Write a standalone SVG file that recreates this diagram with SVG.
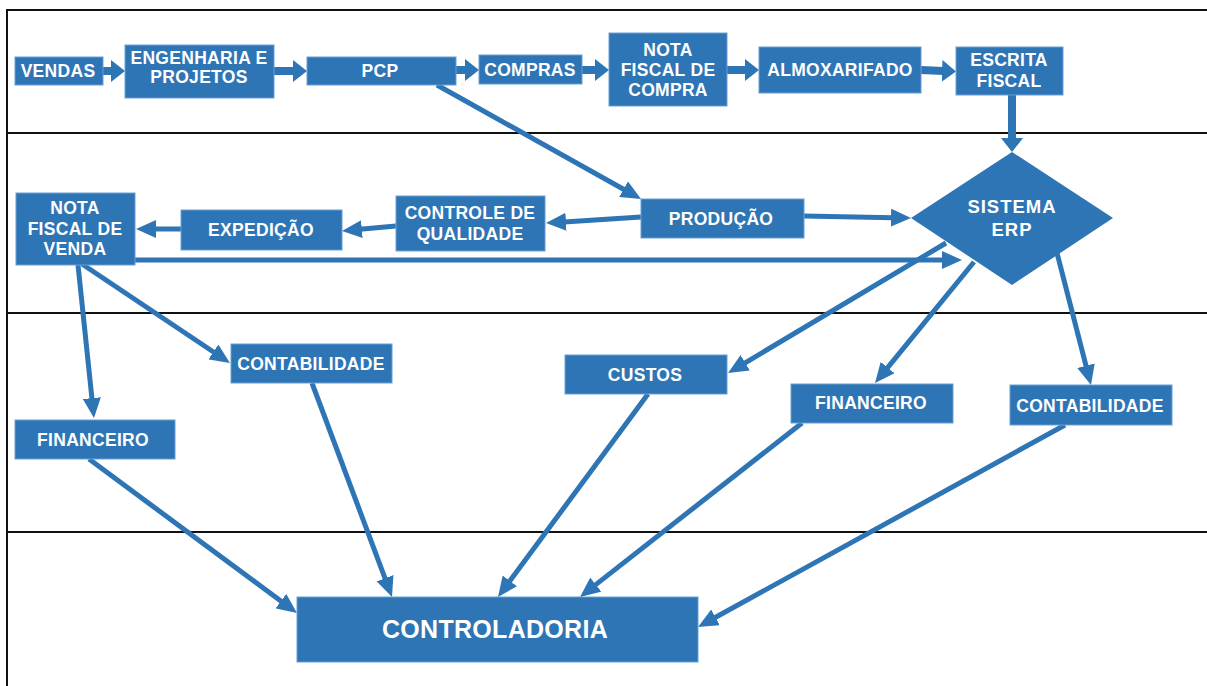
<svg xmlns="http://www.w3.org/2000/svg" width="1207" height="686" viewBox="0 0 1207 686">
<style>
.box{fill:#2E75B6;stroke:#6A9FD2;stroke-width:1}
.t{font-family:"Liberation Sans",Arial,sans-serif;font-weight:bold;font-size:17.5px;letter-spacing:0.3px;fill:#fff;text-anchor:middle}
.big{font-size:25px}
.erp{font-size:18.5px;letter-spacing:1px}
.c{stroke:#2E75B6;stroke-width:5;fill:none;marker-end:url(#a)}
.cb{stroke:#2E75B6;stroke-width:8;fill:none;marker-end:url(#b)}
.fr{stroke:#111;stroke-width:2;fill:none}
</style>
<defs>
<marker id="a" viewBox="0 0 20 18" markerWidth="20" markerHeight="18" markerUnits="userSpaceOnUse" refX="2" refY="9" orient="auto"><path d="M0,0 L20,9 L0,18 z" fill="#2E75B6"/></marker>
<marker id="b" viewBox="0 0 14 22" markerWidth="14" markerHeight="22" markerUnits="userSpaceOnUse" refX="1" refY="11" orient="auto"><path d="M0,0 L14,11 L0,22 z" fill="#2E75B6"/></marker>
</defs>
<rect width="1207" height="686" fill="#fff"/>
<g id="frame">
<path class="fr" d="M7,686 V10 H1207 M7,133 H1207 M7,313 H1207 M7,532 H1207"/>
</g>
<g id="connectors">
<line class="cb" x1="103" y1="71" x2="112" y2="71"/>
<line class="cb" x1="274" y1="71" x2="294" y2="71"/>
<line class="cb" x1="456" y1="70" x2="466" y2="70"/>
<line class="cb" x1="582" y1="70" x2="596" y2="70"/>
<line class="cb" x1="727" y1="70" x2="746" y2="70"/>
<line class="cb" x1="921" y1="70" x2="943" y2="71"/>
<line class="cb" x1="1012" y1="95" x2="1012" y2="139"/>
<line class="c" x1="437" y1="85" x2="625.3" y2="190.2"/>
<line class="c" x1="804" y1="216" x2="893" y2="217.7"/>
<line class="c" x1="641" y1="217" x2="564" y2="221.9"/>
<line class="c" x1="396" y1="226" x2="359.9" y2="229.3"/>
<line class="c" x1="181" y1="229" x2="154" y2="229"/>
<line class="c" x1="135" y1="260" x2="944" y2="260"/>
<line class="c" x1="946" y1="243" x2="743.5" y2="363.8"/>
<line class="c" x1="974" y1="262" x2="886.4" y2="369.1"/>
<line class="c" x1="1057" y1="253" x2="1086.5" y2="367.6"/>
<line class="c" x1="78" y1="265" x2="92.1" y2="400.1"/>
<line class="c" x1="82" y1="264" x2="215" y2="353"/>
<line class="c" x1="89" y1="459" x2="282.5" y2="602.3"/>
<line class="c" x1="312" y1="383" x2="385.7" y2="580.1"/>
<line class="c" x1="648" y1="394" x2="508.7" y2="582.5"/>
<line class="c" x1="802" y1="423" x2="594.2" y2="585.9"/>
<line class="c" x1="1065" y1="425" x2="713.8" y2="618.3"/>
</g>
<g id="vendas"><rect class="box" x="15" y="57" width="88" height="28"/><text class="t" x="58" y="77">VENDAS</text></g>
<g id="engenharia"><rect class="box" x="125" y="45" width="149" height="53"/><text class="t" x="199" y="64">ENGENHARIA E</text><text class="t" x="199" y="83">PROJETOS</text></g>
<g id="pcp"><rect class="box" x="307" y="57" width="149" height="28"/><text class="t" x="380" y="77">PCP</text></g>
<g id="compras"><rect class="box" x="479" y="55" width="103" height="29"/><text class="t" x="530" y="76">COMPRAS</text></g>
<g id="nf-compra"><rect class="box" x="609" y="33" width="118" height="73"/><text class="t" x="668" y="56">NOTA</text><text class="t" x="668" y="76">FISCAL DE</text><text class="t" x="668" y="96">COMPRA</text></g>
<g id="almoxarifado"><rect class="box" x="759" y="47" width="162" height="46"/><text class="t" x="840" y="76">ALMOXARIFADO</text></g>
<g id="escrita"><rect class="box" x="956" y="47" width="107" height="48"/><text class="t" x="1009" y="66">ESCRITA</text><text class="t" x="1009" y="87">FISCAL</text></g>
<g id="erp"><path d="M1012,152 L1113,218 L1012,285 L911,218 z" fill="#2E75B6"/><text class="t erp" x="1012" y="213">SISTEMA</text><text class="t erp" x="1012" y="236">ERP</text></g>
<g id="producao"><rect class="box" x="641" y="199" width="163" height="39"/><text class="t" x="721" y="225">PRODUÇÃO</text></g>
<g id="controle"><rect class="box" x="396" y="196" width="149" height="55"/><text class="t" x="470" y="219">CONTROLE DE</text><text class="t" x="470" y="240">QUALIDADE</text></g>
<g id="expedicao"><rect class="box" x="181" y="210" width="161" height="40"/><text class="t" x="261" y="236">EXPEDIÇÃO</text></g>
<g id="nf-venda"><rect class="box" x="16" y="193" width="119" height="72"/><text class="t" x="75" y="214">NOTA</text><text class="t" x="75" y="235">FISCAL DE</text><text class="t" x="75" y="255">VENDA</text></g>
<g id="contabilidade-1"><rect class="box" x="231" y="344" width="161" height="39"/><text class="t" x="311" y="370">CONTABILIDADE</text></g>
<g id="financeiro-1"><rect class="box" x="15" y="420" width="160" height="39"/><text class="t" x="93" y="446">FINANCEIRO</text></g>
<g id="custos"><rect class="box" x="565" y="355" width="162" height="39"/><text class="t" x="645" y="381">CUSTOS</text></g>
<g id="financeiro-2"><rect class="box" x="791" y="384" width="162" height="39"/><text class="t" x="871" y="409">FINANCEIRO</text></g>
<g id="contabilidade-2"><rect class="box" x="1010" y="385" width="162" height="40"/><text class="t" x="1090" y="412">CONTABILIDADE</text></g>
<g id="controladoria"><rect class="box" x="297" y="597" width="401" height="65"/><text class="t big" x="495" y="638">CONTROLADORIA</text></g>
</svg>
